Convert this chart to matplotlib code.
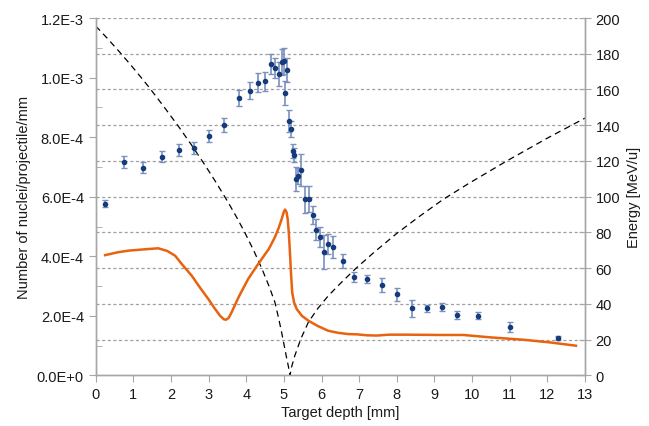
import matplotlib
matplotlib.use("Agg")
import matplotlib.pyplot as plt
from matplotlib.ticker import FixedLocator, MultipleLocator

plt.rcParams['font.family'] = ['Liberation Sans', 'DejaVu Sans']
plt.rcParams['font.size'] = 10.5

# Measured fragment yield (nuclei / projectile / mm) vs depth
meas_depth = [0.24, 0.75, 1.25, 1.75, 2.20, 2.61, 3.00, 3.40, 3.81, 4.11, 4.31, 4.51,
              4.66, 4.77, 4.86, 4.95, 4.99, 5.03, 5.08, 5.13, 5.18, 5.25, 5.28, 5.33,
              5.38, 5.46, 5.57, 5.66, 5.76, 5.86, 5.96, 6.06, 6.16, 6.31, 6.56, 6.86,
              7.21, 7.61, 8.01, 8.41, 8.81, 9.21, 9.61, 10.16, 11.01, 12.27]
meas_value = [5.77, 7.17, 6.98, 7.34, 7.56, 7.65, 8.04, 8.41, 9.32, 9.56, 9.83, 9.87,
              10.45, 10.33, 10.12, 10.53, 10.55, 9.48, 10.25, 8.55, 8.26, 7.53, 7.41, 6.60,
              6.69, 6.90, 5.91, 5.93, 5.39, 4.90, 4.64, 4.13, 4.41, 4.30, 3.85, 3.31,
              3.23, 3.03, 2.72, 2.25, 2.25, 2.29, 2.03, 2.01, 1.64, 1.25]
meas_error = [0.13, 0.20, 0.17, 0.18, 0.20, 0.20, 0.21, 0.22, 0.27, 0.29, 0.33, 0.33,
              0.34, 0.34, 0.40, 0.44, 0.44, 0.40, 0.40, 0.37, 0.27, 0.24, 0.24, 0.40,
              0.27, 0.54, 0.44, 0.44, 0.30, 0.34, 0.34, 0.57, 0.34, 0.37, 0.24, 0.16,
              0.14, 0.24, 0.21, 0.30, 0.13, 0.13, 0.13, 0.12, 0.17, 0.07]
value_unit = 1e-4

# Simulated yield curve
sim_depth = [0.25, 0.6, 0.87, 1.25, 1.66, 1.9, 2.11, 2.3, 2.55, 2.77, 2.99, 3.15,
             3.30, 3.40, 3.46, 3.53, 3.61, 3.8, 4.05, 4.25, 4.41, 4.6, 4.76, 4.86,
             4.94, 5.0, 5.03, 5.07, 5.10, 5.13, 5.16, 5.19, 5.22, 5.27, 5.34, 5.48,
             5.65, 5.9, 6.18, 6.45, 6.71, 6.95, 7.2, 7.46, 7.8, 8.26, 9.15, 9.77,
             10.48, 11.36, 12.07, 12.76]
sim_value = [4.04, 4.14, 4.19, 4.23, 4.27, 4.18, 4.02, 3.72, 3.35, 2.95, 2.57, 2.27,
             2.01, 1.89, 1.87, 1.93, 2.12, 2.64, 3.24, 3.62, 3.91, 4.25, 4.64, 4.95,
             5.25, 5.50, 5.57, 5.48, 5.25, 4.80, 4.14, 3.40, 2.79, 2.45, 2.23, 2.00,
             1.84, 1.66, 1.50, 1.43, 1.39, 1.38, 1.35, 1.34, 1.37, 1.37, 1.36, 1.36,
             1.28, 1.20, 1.11, 1.00]

# Beam energy along the target (MeV/u)
energy_depth = [0.0, 0.3, 0.65, 1.0, 1.4, 1.8, 2.19, 2.55, 2.90, 3.2, 3.52, 3.75,
                3.97, 4.2, 4.41, 4.6, 4.76, 4.86, 4.94, 5.01, 5.07, 5.12, 5.16,
                5.2, 5.29, 5.45, 5.65, 5.9, 6.18, 6.5, 6.89, 7.4, 8.0, 8.6, 9.23,
                9.9, 10.92, 12.0, 13.0]
energy_value = [195.5, 188.8, 180.6, 172.0, 161.7, 150.7, 139.6, 128.8, 117.8, 107.9, 96.8, 88.3,
                79.6, 69.8, 60.0, 50.2, 41.0, 32.0, 24.0, 16.5, 10.0, 5.0, 0,
                4.5, 11.1, 20.5, 29.8, 37.5, 44.6, 51.5, 59.5, 69, 79.5, 89, 98.5,
                107.3, 120, 132.8, 144]

left_ticks = [0.0, 2e-4, 4e-4, 6e-4, 8e-4, 1.0e-3, 1.2e-3]
left_tick_labels = ['0.0E+0', '2.0E-4', '4.0E-4', '6.0E-4', '8.0E-4', '1.0E-3', '1.2E-3']
right_ticks = [0, 20, 40, 60, 80, 100, 120, 140, 160, 180, 200]
x_ticks = list(range(0, 14))

spine_col = '#a6a6a6'
text_col = '#1a1a1a'

fig = plt.figure(figsize=(6.49, 4.27), dpi=100)
ax = fig.add_axes([0.1475, 0.1183, 0.7539, 0.8372])
ax2 = ax.twinx()

# primary axis (yield)
ax.errorbar(meas_depth, [v * value_unit for v in meas_value],
            yerr=[e * value_unit for e in meas_error],
            fmt='o', ms=3.0, color='#143c7c', mec='#143c7c',
            ecolor='#7b90bf', elinewidth=1.2, capsize=2.5, capthick=1.0, zorder=4)
ax.plot(sim_depth, [v * value_unit for v in sim_value], color='#e8620f', lw=1.8,
        zorder=3, solid_joinstyle='round')

ax.set_xlim(0, 13)
ax.set_ylim(0, 1.2e-3)
ax.xaxis.set_major_locator(FixedLocator(x_ticks))
ax.set_xticklabels([str(t) for t in x_ticks])
ax.yaxis.set_major_locator(FixedLocator(left_ticks))
ax.set_yticklabels(left_tick_labels)
ax.yaxis.set_minor_locator(MultipleLocator(1e-4))
ax.tick_params(axis='y', which='major', direction='out', length=5, color=spine_col,
               labelcolor=text_col)
ax.tick_params(axis='y', which='minor', direction='in', length=4, color=spine_col)
ax.tick_params(axis='x', which='major', direction='out', length=5, color=spine_col,
               labelcolor=text_col)
ax.set_xlabel('Target depth [mm]', color=text_col, labelpad=3)
ax.set_ylabel('Number of nuclei/projectile/mm', color=text_col, labelpad=4)

# secondary axis (energy)
for gy in right_ticks[1:]:
    ax2.axhline(gy, color='#a0a0a0', lw=0.9, ls=(0, (2.5, 2)), zorder=0)
ax2.plot(energy_depth, energy_value, color='black', lw=0.9, ls=(0, (5, 3.5)), zorder=2)
ax2.set_ylim(0, 200)
ax2.yaxis.set_major_locator(FixedLocator(right_ticks))
ax2.tick_params(axis='y', which='major', direction='inout', length=8, color=spine_col,
                labelcolor=text_col)
ax2.set_ylabel('Energy [MeV/u]', color=text_col, labelpad=5)

ax.set_zorder(ax2.get_zorder() + 1)
ax.patch.set_visible(False)

for a in (ax, ax2):
    a.spines['top'].set_visible(False)
    for s in ('left', 'right', 'bottom'):
        a.spines[s].set_color(spine_col)
        a.spines[s].set_linewidth(1.0)

fig.savefig('out.png', dpi=100)
